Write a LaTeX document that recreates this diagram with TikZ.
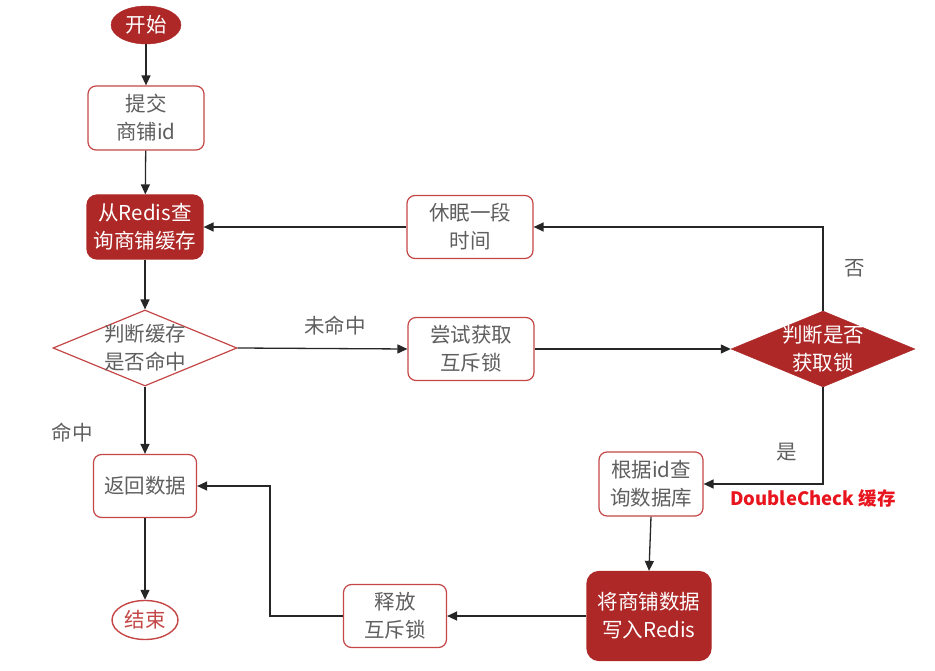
\documentclass[tikz,border=0pt]{standalone}
\usepackage{fontspec}
\setmainfont{Noto Sans CJK SC}
\usetikzlibrary{shapes.geometric,arrows.meta}
\definecolor{darkred}{RGB}{174,40,40}
\definecolor{boxred}{RGB}{196,70,70}
\definecolor{txtgray}{RGB}{95,95,95}
\definecolor{dcred}{RGB}{232,20,30}
\begin{document}
\begin{tikzpicture}[x=1pt,y=-1pt,
  every node/.style={font=\fontsize{20.5}{28}\selectfont, inner sep=0pt},
  wbox/.style={draw=boxred, line width=1.2pt, fill=white, rounded corners=8pt, text=txtgray, align=center},
  rbox/.style={draw=darkred, line width=1.2pt, fill=darkred, rounded corners=10pt, text=white, align=center},
  dia/.style={diamond, minimum width=184pt, minimum height=76pt, inner sep=0pt},
  lbl/.style={text=txtgray, align=center},
  arr/.style={-{Triangle[length=10pt,width=9pt]}, line width=1.3pt, draw=black!85},
  ln/.style={line width=1.3pt, draw=black!85}]
\useasboundingbox (0,0) rectangle (935,671);

\node[ellipse, fill=darkred, draw=darkred, text=white, minimum width=70pt, minimum height=38pt] (start) at (146,25) {开始};
\node[wbox, minimum width=116pt, minimum height=64pt] (submit) at (146,118) {提交\\商铺id};
\node[rbox, minimum width=116pt, minimum height=64pt] (redis) at (145,227) {从Redis查\\询商铺缓存};
\node[dia, draw=boxred, line width=1.2pt, fill=white] (hit) at (145,348) {};
\node[lbl] at (hit) {判断缓存\\是否命中};
\node[wbox, minimum width=103pt, minimum height=63pt] (ret) at (145,486) {返回数据};
\node[ellipse, draw=boxred, line width=1.4pt, fill=white, text=boxred, minimum width=66pt, minimum height=39pt] (end) at (145,620) {结束};

\node[wbox, minimum width=126pt, minimum height=63pt] (sleep) at (470,227) {休眠一段\\时间};
\node[wbox, minimum width=126pt, minimum height=63pt] (try) at (471,349) {尝试获取\\互斥锁};
\node[dia, fill=darkred, draw=darkred] (lock) at (823,349) {};
\node[text=white, align=center] at (lock) {判断是否\\获取锁};
\node[wbox, minimum width=104pt, minimum height=64pt] (db) at (651,484) {根据id查\\询数据库};
\node[rbox, minimum width=124pt, minimum height=89pt, rounded corners=12pt] (write) at (649,616) {将商铺数据\\写入Redis};
\node[wbox, minimum width=103pt, minimum height=63pt] (rel) at (395,616) {释放\\互斥锁};

\node[lbl] (lhit) at (72,433) {命中};
\node[lbl] (lmiss) at (335,326) {未命中};
\node[lbl] (lno) at (855,268) {否};
\node[lbl] (lyes) at (787,452) {是};
\node[text=dcred, font=\fontsize{18.5}{22}\selectfont\bfseries] (dc) at (813,498) {DoubleCheck 缓存};

\draw[arr] (start) -- (submit);
\draw[arr] (submit) -- (redis);
\draw[arr] (redis) -- (hit.north);
\draw[arr] (hit.south) -- (ret);
\draw[arr] (ret) -- (end);
\draw[arr] (hit.east) -- (try.west);
\draw[arr] (try.east) -- (lock.west);
\draw[arr] (lock.north) |- (sleep.east);
\draw[arr] (sleep.west) -- (redis.east);
\draw[arr] (lock.south) |- (db.east);
\draw[arr] (db.south) -- (write.north);
\draw[arr] (write.west) -- (rel.east);
\coordinate (bend) at (270,616);
\draw[arr] (rel.west) -- (bend) |- (ret.east);
\end{tikzpicture}
\end{document}
